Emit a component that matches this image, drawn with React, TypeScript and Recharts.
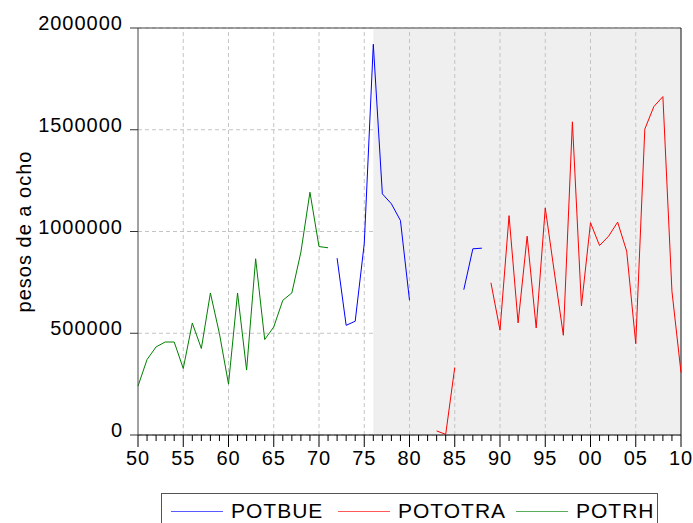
import { LineChart, Line, XAxis, YAxis, CartesianGrid, ReferenceArea, ReferenceLine, Label } from "recharts"

// yearly observations, 1950–2010
const years = Array.from({ length: 61 }, (_, i) => 1950 + i)

// POTRH 1950–1971
const potrh = [
  240000, 371000, 433000, 457000, 457000, 327000, 550000, 425000, 698000, 498000, 250000,
  698000, 319000, 866000, 469000, 531000, 662000, 698000, 899000, 1193000, 926000, 920000,
]
// POTBUE 1972–1988
const potbue = [
  869000, 539000, 559000, 940000, 1920000, 1185000, 1136000, 1054000, 662000,
  null, null, null, null, null, 714000, 915000, 918000,
]
// POTOTRA 1983–2010
const pototra = [
  20000, 3000, 332000, null, null, null, 748000, 515000, 1078000, 551000, 977000, 526000,
  1116000, 801000, 490000, 1539000, 634000, 1043000, 931000, 977000, 1046000, 903000,
  449000, 1503000, 1614000, 1663000, 706000, 307000,
]

const majorYears = [1950, 1955, 1960, 1965, 1970, 1975, 1980, 1985, 1990, 1995, 2000, 2005, 2010]
const yTicks = [0, 500000, 1000000, 1500000, 2000000]
const shadeStart = 1976
const shadeEnd = 2010

const pick = (arr: (number | null)[], start: number, year: number) => {
  const i = year - start
  return i >= 0 && i < arr.length ? arr[i] : null
}

const data = years.map((year) => ({
  year,
  potbue: pick(potbue, 1972, year),
  pototra: pick(pototra, 1983, year),
  potrh: pick(potrh, 1950, year),
}))

const series = [
  { key: "potbue", name: "POTBUE", color: "#0000ff" },
  { key: "pototra", name: "POTOTRA", color: "#ff0000" },
  { key: "potrh", name: "POTRH", color: "#008000" },
]

const font = "'Liberation Sans', Arial, sans-serif"

const YearTick = ({ x, y, payload }: any) => {
  const v = payload.value
  const major = v % 5 === 0
  return (
    <g>
      <line x1={x} x2={x} y1={y} y2={y + (major ? 12 : 6)} stroke="#000" />
      {major && (
        <text x={x} y={y + 30} textAnchor="middle" fontSize={20} fontFamily={font} letterSpacing={1} fill="#000">
          {String(v % 100).padStart(2, "0")}
        </text>
      )}
    </g>
  )
}

const ValueTick = ({ x, y, payload }: any) => (
  <text x={x} y={y + 2} textAnchor="end" fontSize={20} fontFamily={font} letterSpacing={1} fill="#000">
    {payload.value}
  </text>
)

// left edge of each legend sample, relative to the legend box
const legendX = [9, 176, 354]

export default function App() {
  return (
    <div style={{ position: "absolute", left: 0, top: 0, width: 693, height: 523, overflow: "hidden", background: "#fff" }}>
      <LineChart width={693} height={523} data={data} margin={{ top: 28, right: 12, left: 0, bottom: 38 }}>
        <ReferenceArea x1={shadeStart} x2={shadeEnd} fill="#efefef" fillOpacity={1} stroke="none" />
        <CartesianGrid vertical={false} strokeDasharray="4 3" stroke="#c4c4c4" />
        {majorYears.slice(1, -1).map((y) => (
          <ReferenceLine key={y} x={y} stroke="#c4c4c4" strokeDasharray="4 3" />
        ))}
        <ReferenceLine y={2000000} stroke="#444" />
        <ReferenceLine x={2010} stroke="#111" />
        <XAxis
          dataKey="year"
          type="number"
          domain={[1950, 2010]}
          ticks={years}
          interval={0}
          height={50}
          tickLine={false}
          tickSize={0}
          tickMargin={0}
          axisLine={{ stroke: "#000" }}
          tick={<YearTick />}
        />
        <YAxis
          type="number"
          domain={[0, 2000000]}
          ticks={yTicks}
          interval={0}
          width={138}
          tickSize={8}
          tickMargin={7}
          tickLine={{ stroke: "#333" }}
          axisLine={{ stroke: "#444" }}
          tick={<ValueTick />}
        >
          <Label
            value="pesos de a ocho"
            angle={-90}
            position="insideLeft"
            offset={24}
            style={{ textAnchor: "middle", fontSize: 20, fontFamily: font, letterSpacing: 1, fill: "#000" }}
          />
        </YAxis>
        {series.map((s) => (
          <Line
            key={s.key}
            type="linear"
            dataKey={s.key}
            name={s.name}
            stroke={s.color}
            strokeWidth={1}
            dot={false}
            activeDot={false}
            isAnimationActive={false}
          />
        ))}
      </LineChart>
      <div
        style={{
          position: "absolute",
          left: 161,
          top: 493,
          width: 497,
          height: 40,
          border: "1px solid #555",
          boxSizing: "border-box",
          fontFamily: font,
          fontSize: 21,
          letterSpacing: 1,
          lineHeight: "24px",
        }}
      >
        {series.map((s, i) => (
          <div key={s.key} style={{ position: "absolute", left: legendX[i], top: 5, display: "flex", alignItems: "center" }}>
            <svg width={52} height={24} style={{ display: "block" }}>
              <line x1={0} x2={52} y1={12.5} y2={12.5} stroke={s.color} strokeWidth={1} strokeOpacity={0.65} />
            </svg>
            <span style={{ marginLeft: 8 }}>{s.name}</span>
          </div>
        ))}
      </div>
    </div>
  )
}
